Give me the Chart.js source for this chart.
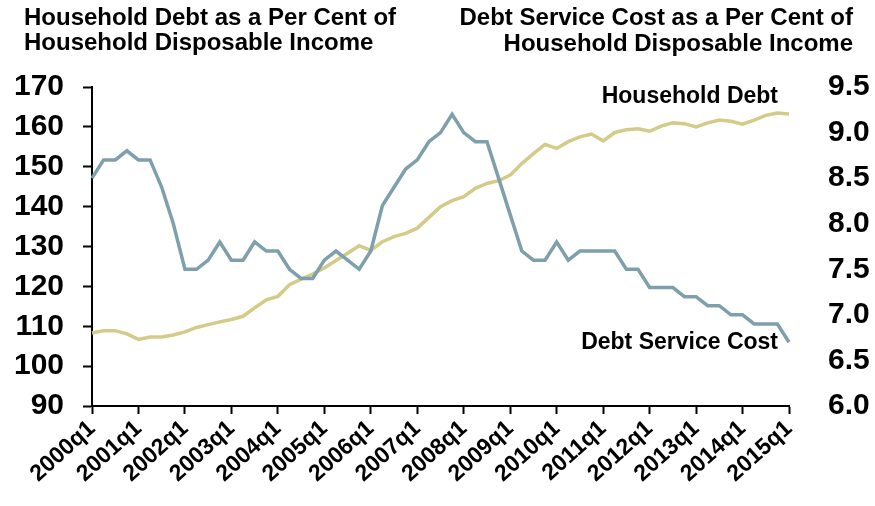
<!DOCTYPE html>
<html>
<head>
<meta charset="utf-8">
<script src="https://cdn.jsdelivr.net/npm/chart.js@4/dist/chart.umd.min.js"></script>
<style>
  html, body { margin: 0; padding: 0; background: #ffffff; }
  #debtChart { display: block; }
</style>
</head>
<body>
<canvas id="debtChart" width="875" height="506"></canvas>
<script>
// Quarterly labels 2000q1 .. 2015q1
const quarters = [];
for (let y = 2000; y <= 2015; y++) {
  for (let q = 1; q <= 4; q++) {
    if (y === 2015 && q > 1) break;
    quarters.push(y + 'q' + q);
  }
}

// Household debt, % of disposable income (left axis)
const householdDebt = [
  108.3, 108.9, 108.9, 108.1, 106.7, 107.3, 107.3, 107.8,
  108.6, 109.7, 110.4, 111.1, 111.7, 112.5, 114.6, 116.6,
  117.5, 120.4, 121.8, 123.1, 124.6, 126.5, 128.3, 130.2,
  129.0, 131.2, 132.5, 133.3, 134.6, 137.3, 140.0, 141.5,
  142.5, 144.6, 145.8, 146.5, 147.9, 150.8, 153.3, 155.6,
  154.6, 156.3, 157.5, 158.2, 156.5, 158.6, 159.3, 159.5,
  158.9, 160.2, 161.0, 160.8, 160.0, 161.0, 161.7, 161.4,
  160.7, 161.7, 162.9, 163.5, 163.2
];

// Debt service cost, % of disposable income (right axis)
const debtService = [
  8.5, 8.7, 8.7, 8.8, 8.7, 8.7, 8.4, 8.0,
  7.5, 7.5, 7.6, 7.8, 7.6, 7.6, 7.8, 7.7,
  7.7, 7.5, 7.4, 7.4, 7.6, 7.7, 7.6, 7.5,
  7.7, 8.2, 8.4, 8.6, 8.7, 8.9, 9.0, 9.2,
  9.0, 8.9, 8.9, 8.5, 8.1, 7.7, 7.6, 7.6,
  7.8, 7.6, 7.7, 7.7, 7.7, 7.7, 7.5, 7.5,
  7.3, 7.3, 7.3, 7.2, 7.2, 7.1, 7.1, 7.0,
  7.0, 6.9, 6.9, 6.9, 6.7
];

const leftTitle = ['Household Debt as a Per Cent of', 'Household Disposable Income'];
const rightTitle = ['Debt Service Cost as a Per Cent of', 'Household Disposable Income'];

const FONT = '"Liberation Sans", Arial, Helvetica, sans-serif';
const DEBT_COLOR = '#d3cb87';
const DSC_COLOR = '#7e9fac';

// Titles above each axis plus the inline series names
const textPlugin = {
  id: 'chartText',
  afterDraw(chart) {
    const ctx = chart.ctx;
    const area = chart.chartArea;
    ctx.save();
    ctx.fillStyle = '#000';
    ctx.textBaseline = 'alphabetic';
    ctx.font = 'bold 24px ' + FONT;

    ctx.textAlign = 'left';
    ctx.fillText(leftTitle[0], 24, 25);
    ctx.fillText(leftTitle[1], 24, 50);

    ctx.textAlign = 'right';
    ctx.fillText(rightTitle[0], 853, 25);
    ctx.fillText(rightTitle[1], 853, 51);

    ctx.font = 'bold 23px ' + FONT;
    const yL = chart.scales.y;
    const yR = chart.scales.y1;
    ctx.fillText('Household Debt', area.right - 11, yL.getPixelForValue(166));
    ctx.fillText('Debt Service Cost', area.right - 11, yR.getPixelForValue(6.63));
    ctx.restore();
  }
};

new Chart(document.getElementById('debtChart'), {
  type: 'line',
  data: {
    labels: quarters,
    datasets: [
      {
        label: 'Household Debt',
        data: householdDebt,
        yAxisID: 'y',
        borderColor: DEBT_COLOR,
        borderWidth: 3.5,
        pointRadius: 0,
        tension: 0,
        order: 2
      },
      {
        label: 'Debt Service Cost',
        data: debtService,
        yAxisID: 'y1',
        borderColor: DSC_COLOR,
        borderWidth: 3.5,
        pointRadius: 0,
        tension: 0,
        order: 1
      }
    ]
  },
  options: {
    responsive: false,
    animation: false,
    layout: { padding: { top: 87, left: 0, right: 0, bottom: 0 } },
    plugins: {
      legend: { display: false },
      tooltip: { enabled: false },
      title: { display: false }
    },
    scales: {
      x: {
        offset: false,
        afterFit: s => { s.height = 100; },
        grid: {
          drawOnChartArea: false,
          drawTicks: true,
          tickLength: 8,
          tickWidth: 2,
          color: '#000'
        },
        border: { display: true, color: '#000', width: 2 },
        ticks: {
          autoSkip: false,
          minRotation: 42,
          maxRotation: 42,
          padding: 1,
          color: '#000',
          font: { family: FONT, size: 23, weight: 'bold' },
          callback: function (v, i) {
            return i % 4 === 0 ? this.getLabelForValue(v) : null;
          }
        }
      },
      y: {
        position: 'left',
        min: 90,
        max: 170,
        afterFit: s => { s.width = 92; },
        grid: {
          drawOnChartArea: false,
          drawTicks: true,
          tickLength: 9,
          tickWidth: 2,
          color: '#000'
        },
        border: { display: true, color: '#000', width: 2 },
        ticks: {
          stepSize: 10,
          autoSkip: false,
          padding: 19,
          color: '#000',
          font: { family: FONT, size: 30, weight: 'bold' }
        }
      },
      y1: {
        position: 'right',
        min: 6,
        max: 9.5,
        afterFit: s => { s.width = 86; },
        grid: { display: false, drawOnChartArea: false },
        border: { display: false },
        ticks: {
          stepSize: 0.5,
          autoSkip: false,
          padding: 31,
          color: '#000',
          font: { family: FONT, size: 30, weight: 'bold' },
          callback: v => v.toFixed(1)
        }
      }
    }
  },
  plugins: [textPlugin]
});
</script>
</body>
</html>
